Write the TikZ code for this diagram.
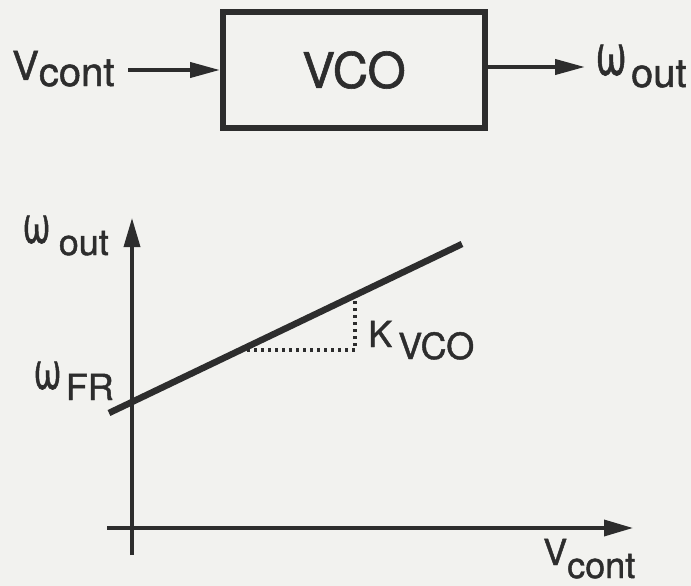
\documentclass[tikz,border=0pt]{standalone}
\usepackage{fontspec}
\usepackage{graphicx}
\setmainfont{TeX Gyre Heros}[FakeBold=1.2]
\usetikzlibrary{arrows.meta}
\definecolor{paper}{RGB}{242,242,239}
\definecolor{ink}{RGB}{45,45,45}
\newcommand\myom{\scalebox{1.05}[1.45]{ω}}
\begin{document}
\begin{tikzpicture}[x=1pt,y=-1pt,
  lbl/.style={inner sep=0pt, anchor=base west, text=ink, font=\fontsize{40}{40}\selectfont},
  glbl/.style={inner sep=0pt, anchor=base west, text=ink, font=\fontsize{36}{36}\selectfont},
  blk/.style={draw=ink, line width=6pt, minimum width=262pt, minimum height=116pt, inner sep=0pt, text=ink, font=\fontsize{49}{49}\selectfont},
  sig/.style={draw=ink, line width=4pt, -{Triangle[length=30pt,width=15pt]}},
  axisline/.style={draw=ink, line width=3.5pt, -{Triangle[length=29pt,width=16pt]}},
  curveline/.style={draw=ink, line width=6.5pt},
  guide/.style={draw=ink, line width=3.5pt, dash pattern=on 3pt off 4pt}
]
\fill[paper] (0,0) rectangle (691,586);
\useasboundingbox (0,0) rectangle (691,586);

% block diagram
\node[blk] (vco) at (354,70) {VCO};
\node[lbl] (vin) at (12,80) {V\raisebox{-6pt}{cont}};
\node[lbl] (wout) at (595,75) {\myom\hspace{4pt}\raisebox{-12pt}{out}};
\coordinate (inL) at (128,70);
\coordinate (outR) at (585,67);
\draw[sig] (inL) -- (vco.west);
\draw[sig] (vco.east |- outR) -- (outR);

% graph
\coordinate (ybot) at (132,555);
\coordinate (ytop) at (132,218);
\coordinate (xl) at (107,528);
\coordinate (xr) at (633,528);
\draw[axisline] (ybot) -- (ytop);
\draw[axisline] (xl) -- (xr);
\coordinate (c1) at (109,413);
\coordinate (c2) at (462,244);
\draw[curveline] (c1) -- (c2);
\coordinate (d1) at (240,350);
\coordinate (d2) at (355,350);
\coordinate (d3) at (355,295);
\draw[guide] (d1) -- (d2) -- (d3);

\node[glbl] (gwout) at (22,243) {\myom\hspace{8pt}\raisebox{-12pt}{out}};
\node[glbl] (wfr) at (33,389) {\myom\hspace{4pt}\raisebox{-11pt}{FR}};
\node[glbl] (kvco) at (368,347) {K\hspace{6pt}\raisebox{-12pt}{VCO}};
\node[glbl] (gvin) at (543,565) {V\raisebox{-13pt}{cont}};
\end{tikzpicture}
\end{document}
